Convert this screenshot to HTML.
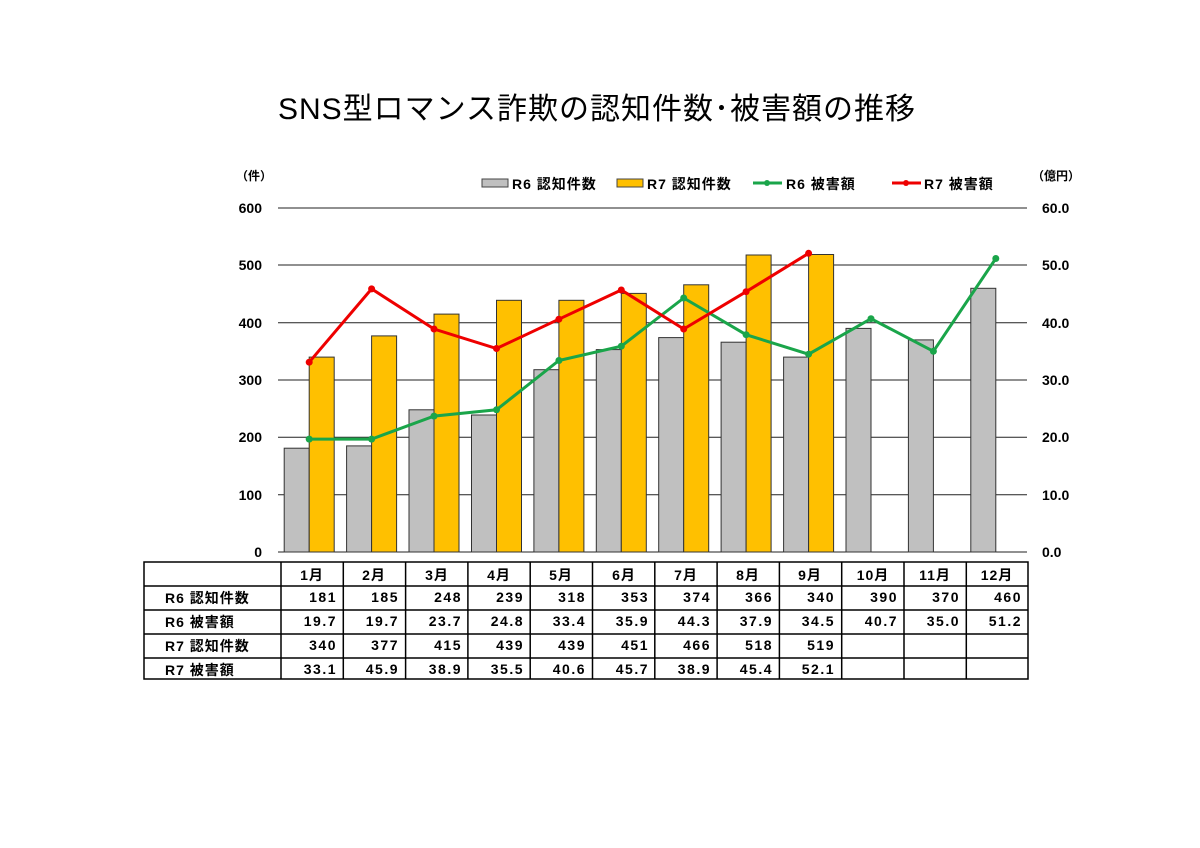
<!DOCTYPE html>
<html><head><meta charset="utf-8"><style>
body{margin:0;background:#fff}
svg{display:block}
text{font-family:"Liberation Sans","Noto Sans CJK JP",sans-serif;fill:#000}
</style></head><body>
<svg width="1200" height="848" viewBox="0 0 1200 848" xmlns="http://www.w3.org/2000/svg">
<text x="597" y="119" font-size="30" text-anchor="middle" letter-spacing="1">SNS型ロマンス詐欺の認知件数･被害額の推移</text>
<text x="236" y="180" font-size="12" font-weight="bold">（件）</text>
<text x="1032" y="180" font-size="12" font-weight="bold">（億円）</text>
<!-- legend -->
<rect x="482" y="179" width="26" height="8" fill="#c0c0c0" stroke="#444"/>
<text x="512" y="189" font-size="14" font-weight="bold" letter-spacing="1">R6 認知件数</text>
<rect x="617" y="179" width="26" height="8" fill="#ffc000" stroke="#444"/>
<text x="647" y="189" font-size="14" font-weight="bold" letter-spacing="1">R7 認知件数</text>
<line x1="753" y1="183" x2="782" y2="183" stroke="#1aa54a" stroke-width="3"/><circle cx="767" cy="183" r="3" fill="#1aa54a"/>
<text x="786" y="189" font-size="14" font-weight="bold" letter-spacing="1">R6 被害額</text>
<line x1="892" y1="183" x2="921" y2="183" stroke="#e00" stroke-width="3"/><circle cx="906" cy="183" r="3" fill="#e00"/>
<text x="924" y="189" font-size="14" font-weight="bold" letter-spacing="1">R7 被害額</text>
<!-- grid -->
<g stroke="#222" stroke-width="1">
<line x1="278" y1="208" x2="1027" y2="208"/><line x1="278" y1="265" x2="1027" y2="265"/>
<line x1="278" y1="322.7" x2="1027" y2="322.7"/><line x1="278" y1="380" x2="1027" y2="380"/>
<line x1="278" y1="437.3" x2="1027" y2="437.3"/><line x1="278" y1="494.7" x2="1027" y2="494.7"/>
<line x1="278" y1="552" x2="1027" y2="552"/>
</g>
<g font-size="14" font-weight="bold" text-anchor="end">
<text x="262" y="213">600</text><text x="262" y="270">500</text><text x="262" y="328">400</text>
<text x="262" y="385">300</text><text x="262" y="442">200</text><text x="262" y="500">100</text><text x="262" y="557">0</text>
</g>
<g font-size="14" font-weight="bold">
<text x="1042" y="213">60.0</text><text x="1042" y="270">50.0</text><text x="1042" y="328">40.0</text>
<text x="1042" y="385">30.0</text><text x="1042" y="442">20.0</text><text x="1042" y="500">10.0</text><text x="1042" y="557">0.0</text>
</g>
<!-- bars -->
<g fill="#c0c0c0" stroke="#333" stroke-width="1">
<rect x="284.2" y="448.2" width="25" height="103.8"/>
<rect x="346.6" y="445.9" width="25" height="106.1"/>
<rect x="409" y="409.8" width="25" height="142.2"/>
<rect x="471.5" y="415" width="25" height="137"/>
<rect x="533.9" y="369.7" width="25" height="182.3"/>
<rect x="596.3" y="349.6" width="25" height="202.4"/>
<rect x="658.7" y="337.6" width="25" height="214.4"/>
<rect x="721.1" y="342.2" width="25" height="209.8"/>
<rect x="783.6" y="357.1" width="25" height="194.9"/>
<rect x="846" y="328.4" width="25" height="223.6"/>
<rect x="908.4" y="339.9" width="25" height="212.1"/>
<rect x="970.8" y="288.3" width="25" height="263.7"/>
</g>
<g fill="#ffc000" stroke="#333" stroke-width="1">
<rect x="309.2" y="357.1" width="25" height="194.9"/>
<rect x="371.6" y="335.9" width="25" height="216.1"/>
<rect x="434" y="314.1" width="25" height="237.9"/>
<rect x="496.5" y="300.3" width="25" height="251.7"/>
<rect x="558.9" y="300.3" width="25" height="251.7"/>
<rect x="621.3" y="293.4" width="25" height="258.6"/>
<rect x="683.7" y="284.8" width="25" height="267.2"/>
<rect x="746.1" y="255" width="25" height="297"/>
<rect x="808.6" y="254.5" width="25" height="297.5"/>
</g>
<!-- lines -->
<polyline fill="none" stroke="#1aa54a" stroke-width="3" points="309.2,439.1 371.6,439.1 434,416.1 496.5,409.8 558.9,360.5 621.3,346.2 683.7,298 746.1,334.7 808.6,354.2 871,318.7 933.4,351.3 995.8,258.5"/>
<g fill="#1aa54a"><circle cx="309.2" cy="439.1" r="3.5"/><circle cx="371.6" cy="439.1" r="3.5"/><circle cx="434" cy="416.1" r="3.5"/><circle cx="496.5" cy="409.8" r="3.5"/><circle cx="558.9" cy="360.5" r="3.5"/><circle cx="621.3" cy="346.2" r="3.5"/><circle cx="683.7" cy="298" r="3.5"/><circle cx="746.1" cy="334.7" r="3.5"/><circle cx="808.6" cy="354.2" r="3.5"/><circle cx="871" cy="318.7" r="3.5"/><circle cx="933.4" cy="351.3" r="3.5"/><circle cx="995.8" cy="258.5" r="3.5"/></g>
<polyline fill="none" stroke="#e00" stroke-width="3" points="309.2,362.2 371.6,288.9 434,329 496.5,348.5 558.9,319.2 621.3,290 683.7,329 746.1,291.7 808.6,253.3"/>
<g fill="#e00"><circle cx="309.2" cy="362.2" r="3.5"/><circle cx="371.6" cy="288.9" r="3.5"/><circle cx="434" cy="329" r="3.5"/><circle cx="496.5" cy="348.5" r="3.5"/><circle cx="558.9" cy="319.2" r="3.5"/><circle cx="621.3" cy="290" r="3.5"/><circle cx="683.7" cy="329" r="3.5"/><circle cx="746.1" cy="291.7" r="3.5"/><circle cx="808.6" cy="253.3" r="3.5"/></g>
<!-- table -->
<g stroke="#000" stroke-width="1.5" fill="none">
<rect x="144" y="562" width="884" height="117"/>
<line x1="144" y1="586" x2="1028" y2="586"/><line x1="144" y1="610" x2="1028" y2="610"/>
<line x1="144" y1="634" x2="1028" y2="634"/><line x1="144" y1="658" x2="1028" y2="658"/>
<line x1="281" y1="562" x2="281" y2="679"/><line x1="343.3" y1="562" x2="343.3" y2="679"/>
<line x1="405.6" y1="562" x2="405.6" y2="679"/><line x1="467.9" y1="562" x2="467.9" y2="679"/>
<line x1="530.2" y1="562" x2="530.2" y2="679"/><line x1="592.5" y1="562" x2="592.5" y2="679"/>
<line x1="654.8" y1="562" x2="654.8" y2="679"/><line x1="717.1" y1="562" x2="717.1" y2="679"/>
<line x1="779.4" y1="562" x2="779.4" y2="679"/><line x1="841.7" y1="562" x2="841.7" y2="679"/>
<line x1="904" y1="562" x2="904" y2="679"/><line x1="966.3" y1="562" x2="966.3" y2="679"/>
</g>
<g font-size="14" font-weight="bold" letter-spacing="1">
<text x="165" y="603">R6 認知件数</text><text x="165" y="627">R6 被害額</text>
<text x="165" y="651">R7 認知件数</text><text x="165" y="675">R7 被害額</text>
</g>
<g font-size="14" font-weight="bold" text-anchor="middle" letter-spacing="1">
<text x="312" y="580">1月</text><text x="374" y="580">2月</text><text x="437" y="580">3月</text><text x="499" y="580">4月</text><text x="561" y="580">5月</text><text x="624" y="580">6月</text><text x="686" y="580">7月</text><text x="748" y="580">8月</text><text x="810" y="580">9月</text><text x="873" y="580">10月</text><text x="935" y="580">11月</text><text x="997" y="580">12月</text>
</g>
<g font-size="14" font-weight="bold" text-anchor="end" letter-spacing="1.5">
<text x="337" y="602">181</text><text x="399" y="602">185</text><text x="462" y="602">248</text><text x="524" y="602">239</text><text x="586" y="602">318</text><text x="649" y="602">353</text><text x="711" y="602">374</text><text x="773" y="602">366</text><text x="835" y="602">340</text><text x="898" y="602">390</text><text x="960" y="602">370</text><text x="1022" y="602">460</text>
<text x="337" y="626">19.7</text><text x="399" y="626">19.7</text><text x="462" y="626">23.7</text><text x="524" y="626">24.8</text><text x="586" y="626">33.4</text><text x="649" y="626">35.9</text><text x="711" y="626">44.3</text><text x="773" y="626">37.9</text><text x="835" y="626">34.5</text><text x="898" y="626">40.7</text><text x="960" y="626">35.0</text><text x="1022" y="626">51.2</text>
<text x="337" y="650">340</text><text x="399" y="650">377</text><text x="462" y="650">415</text><text x="524" y="650">439</text><text x="586" y="650">439</text><text x="649" y="650">451</text><text x="711" y="650">466</text><text x="773" y="650">518</text><text x="835" y="650">519</text>
<text x="337" y="674">33.1</text><text x="399" y="674">45.9</text><text x="462" y="674">38.9</text><text x="524" y="674">35.5</text><text x="586" y="674">40.6</text><text x="649" y="674">45.7</text><text x="711" y="674">38.9</text><text x="773" y="674">45.4</text><text x="835" y="674">52.1</text>
</g>
</svg>
</body></html>
